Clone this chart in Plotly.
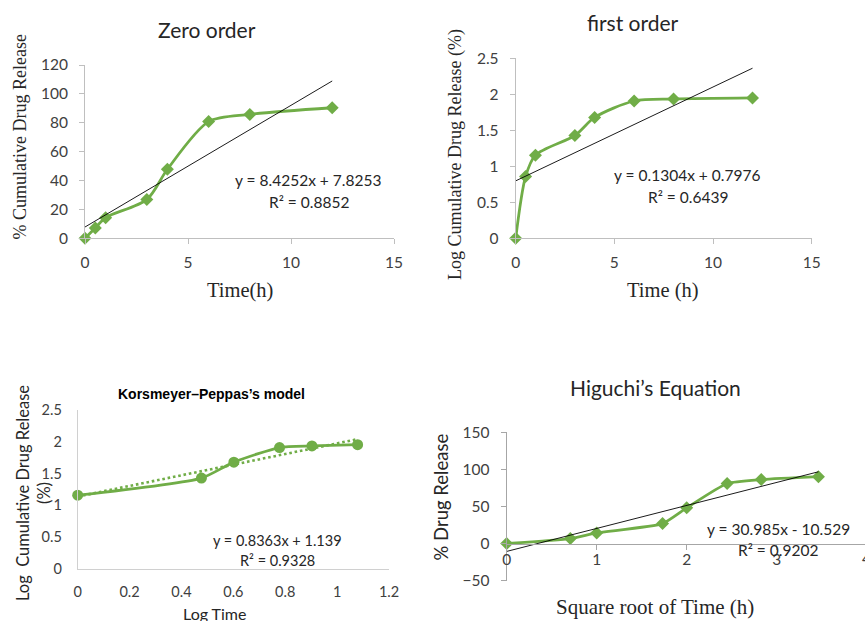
import plotly.graph_objects as go

# ---------------- data ----------------
time_h = [0, 0.5, 1, 3, 4, 6, 8, 12]
cum_release = [0, 7.2, 14.3, 26.8, 47.8, 80.8, 85.8, 90.4]
log_release = [0, 0.857, 1.155, 1.428, 1.679, 1.907, 1.935, 1.950]
log_time = [0, 0.477, 0.602, 0.778, 0.903, 1.079]
kp_log_release = [1.16, 1.43, 1.68, 1.91, 1.935, 1.955]
sqrt_time = [0, 0.707, 1, 1.732, 2, 2.449, 2.828, 3.464]
hig_release = [0, 6.8, 14.4, 27.0, 48.2, 81.0, 86.3, 90.2]

zero_fit = [8.4252, 7.8253]
first_fit = [0.1304, 0.7976]
kp_fit = [0.8363, 1.139]
hig_fit = [30.985, -10.529]

zero_eq = ["y = 8.4252x + 7.8253", "R² = 0.8852"]
first_eq = ["y = 0.1304x + 0.7976", "R² = 0.6439"]
kp_eq = ["y = 0.8363x + 1.139", "R² = 0.9328"]
hig_eq = ["y = 30.985x - 10.529", "R² = 0.9202"]

W, H = 865, 621
GREEN = "#70AD47"
AXC = "#BFBFBF"
TICKC = "#404040"
SANS = "Lato"
SERIF = "Liberation Serif"


def px(x):
    return x / W


def py(y):
    return 1 - y / H


def fit_line(xs, coef):
    xe = [min(xs), max(xs)]
    return xe, [coef[0] * v + coef[1] for v in xe]


fig = go.Figure()

# Panel 1: zero order
fig.add_trace(go.Scatter(x=time_h, y=cum_release, mode="lines+markers",
                         line=dict(color=GREEN, width=2.8, shape="spline", smoothing=0.8),
                         marker=dict(symbol="diamond", size=10, color=GREEN),
                         cliponaxis=False, xaxis="x", yaxis="y"))
fx, fy = fit_line(time_h, zero_fit)
fig.add_trace(go.Scatter(x=fx, y=fy, mode="lines", line=dict(color="black", width=0.9),
                         cliponaxis=False, xaxis="x", yaxis="y"))

# Panel 2: first order
fig.add_trace(go.Scatter(x=time_h, y=log_release, mode="lines+markers",
                         line=dict(color=GREEN, width=2.8, shape="spline", smoothing=0.8),
                         marker=dict(symbol="diamond", size=10, color=GREEN),
                         cliponaxis=False, xaxis="x2", yaxis="y2"))
fx, fy = fit_line(time_h, first_fit)
fig.add_trace(go.Scatter(x=fx, y=fy, mode="lines", line=dict(color="black", width=0.9),
                         cliponaxis=False, xaxis="x2", yaxis="y2"))

# Panel 3: Korsmeyer-Peppas
fig.add_trace(go.Scatter(x=log_time, y=kp_log_release, mode="lines+markers",
                         line=dict(color=GREEN, width=2.8, shape="spline", smoothing=0.6),
                         marker=dict(symbol="circle", size=11, color=GREEN),
                         cliponaxis=False, xaxis="x3", yaxis="y3"))
fx, fy = fit_line(log_time, kp_fit)
fig.add_trace(go.Scatter(x=fx, y=fy, mode="lines",
                         line=dict(color=GREEN, width=2.6, dash="2.6px,2.8px"),
                         cliponaxis=False, xaxis="x3", yaxis="y3"))

# Panel 4: Higuchi
fig.add_trace(go.Scatter(x=sqrt_time, y=hig_release, mode="lines+markers",
                         line=dict(color=GREEN, width=2.8, shape="spline", smoothing=0.5),
                         marker=dict(symbol="diamond", size=10, color=GREEN),
                         cliponaxis=False, xaxis="x4", yaxis="y4"))
fx, fy = fit_line(sqrt_time, hig_fit)
fig.add_trace(go.Scatter(x=fx, y=fy, mode="lines", line=dict(color="black", width=0.9),
                         cliponaxis=False, xaxis="x4", yaxis="y4"))


def ax(domain, rng, dtick, ticks="outside", color=AXC, size=15.5, **kw):
    d = dict(domain=domain, range=rng, dtick=dtick, showline=True, linecolor=color,
             linewidth=1, showgrid=False, zeroline=False, ticks=ticks, ticklen=5,
             tickcolor=color, tickfont=dict(family=SANS, size=size, color=TICKC),
             fixedrange=True)
    d.update(kw)
    return d


hig_x0 = 506.7
hig_unit = 90.0
hig_y0 = 543.6

fig.update_layout(
    width=W, height=H, margin=dict(l=0, r=0, t=0, b=0, autoexpand=False),
    paper_bgcolor="white", plot_bgcolor="white", showlegend=False,
    xaxis=ax([px(85), px(394)], [0, 15], 5, anchor="y", ticklabelstandoff=5),
    yaxis=ax([py(238.3), py(65)], [0, 120], 20, anchor="x", ticklabelstandoff=8),
    xaxis2=ax([px(515.7), px(811.7)], [0, 15], 5, anchor="y2", ticklabelstandoff=5),
    yaxis2=ax([py(238.3), py(58.3)], [0, 2.5], 0.5, anchor="x2", ticklabelstandoff=8),
    xaxis3=ax([px(77.7), px(389)], [0, 1.2], 0.2, ticks="", size=14.5, anchor="y3",
              ticklabelstandoff=10, color="#D0D0D0"),
    yaxis3=ax([py(569), py(410)], [0, 2.5], 0.5, ticks="", size=14.5, anchor="x3",
              ticklabelstandoff=12, color="#D0D0D0"),
    xaxis4=ax([px(hig_x0), 1], [0, (W - hig_x0) / hig_unit], 1, anchor="free",
              position=py(hig_y0), ticklabelstandoff=-3, color="#A6A6A6"),
    yaxis4=ax([py(580.7), py(432.3)], [-50, 150], 50, anchor="x4", ticklabelstandoff=8,
              color="#A6A6A6"),
)

ann = []


def text(x, y, s, size, family=SANS, color="#262626", angle=0, bold=False):
    if bold:
        s = "<b>" + s + "</b>"
    ann.append(dict(x=px(x), y=py(y), xref="paper", yref="paper", text=s, showarrow=False,
                    xanchor="center", yanchor="middle", textangle=angle,
                    font=dict(family=family, size=size, color=color)))


# titles
text(206.7, 30, "Zero order", 21)
text(633, 23, "first order", 21)
text(211.7, 394, "Korsmeyer–Peppas’s model", 14, family="Liberation Sans", bold=True, color="black")
text(655.8, 387, "Higuchi’s Equation", 21)

# axis titles
text(19.5, 137, "% Cumulative Drug Release", 18, family=SERIF, angle=-90)
text(240, 290, "Time(h)", 20.5, family=SERIF)
text(455, 155, "Log Cumulative Drug Release (%)", 18, family=SERIF, angle=-90)
text(663, 290, "Time (h)", 20.5, family=SERIF)
text(33, 493, "Log  Cumulative Drug Release<br>(%)", 16.5, angle=-90)
text(214.7, 613, "Log Time", 16)
text(440, 497.5, "% Drug Release", 18.5, angle=-90)
text(655, 607, "Square root of Time (h)", 21, family=SERIF)

# equations
text(308, 180, zero_eq[0], 15.5)
text(309, 202, zero_eq[1], 15.5)
text(687, 175, first_eq[0], 15.5)
text(687.5, 197, first_eq[1], 15.5)
text(277, 540.7, kp_eq[0], 14.5)
text(277, 560.7, kp_eq[1], 14.5)
text(778, 529.3, hig_eq[0], 15.5)
text(778, 550, hig_eq[1], 15.5)

# partially visible "4" tick label on the Higuchi x axis
text(hig_x0 + 4 * hig_unit, 558.3, "4", 15.5, color=TICKC)

fig.update_layout(annotations=ann)
fig.write_html("out.html")
